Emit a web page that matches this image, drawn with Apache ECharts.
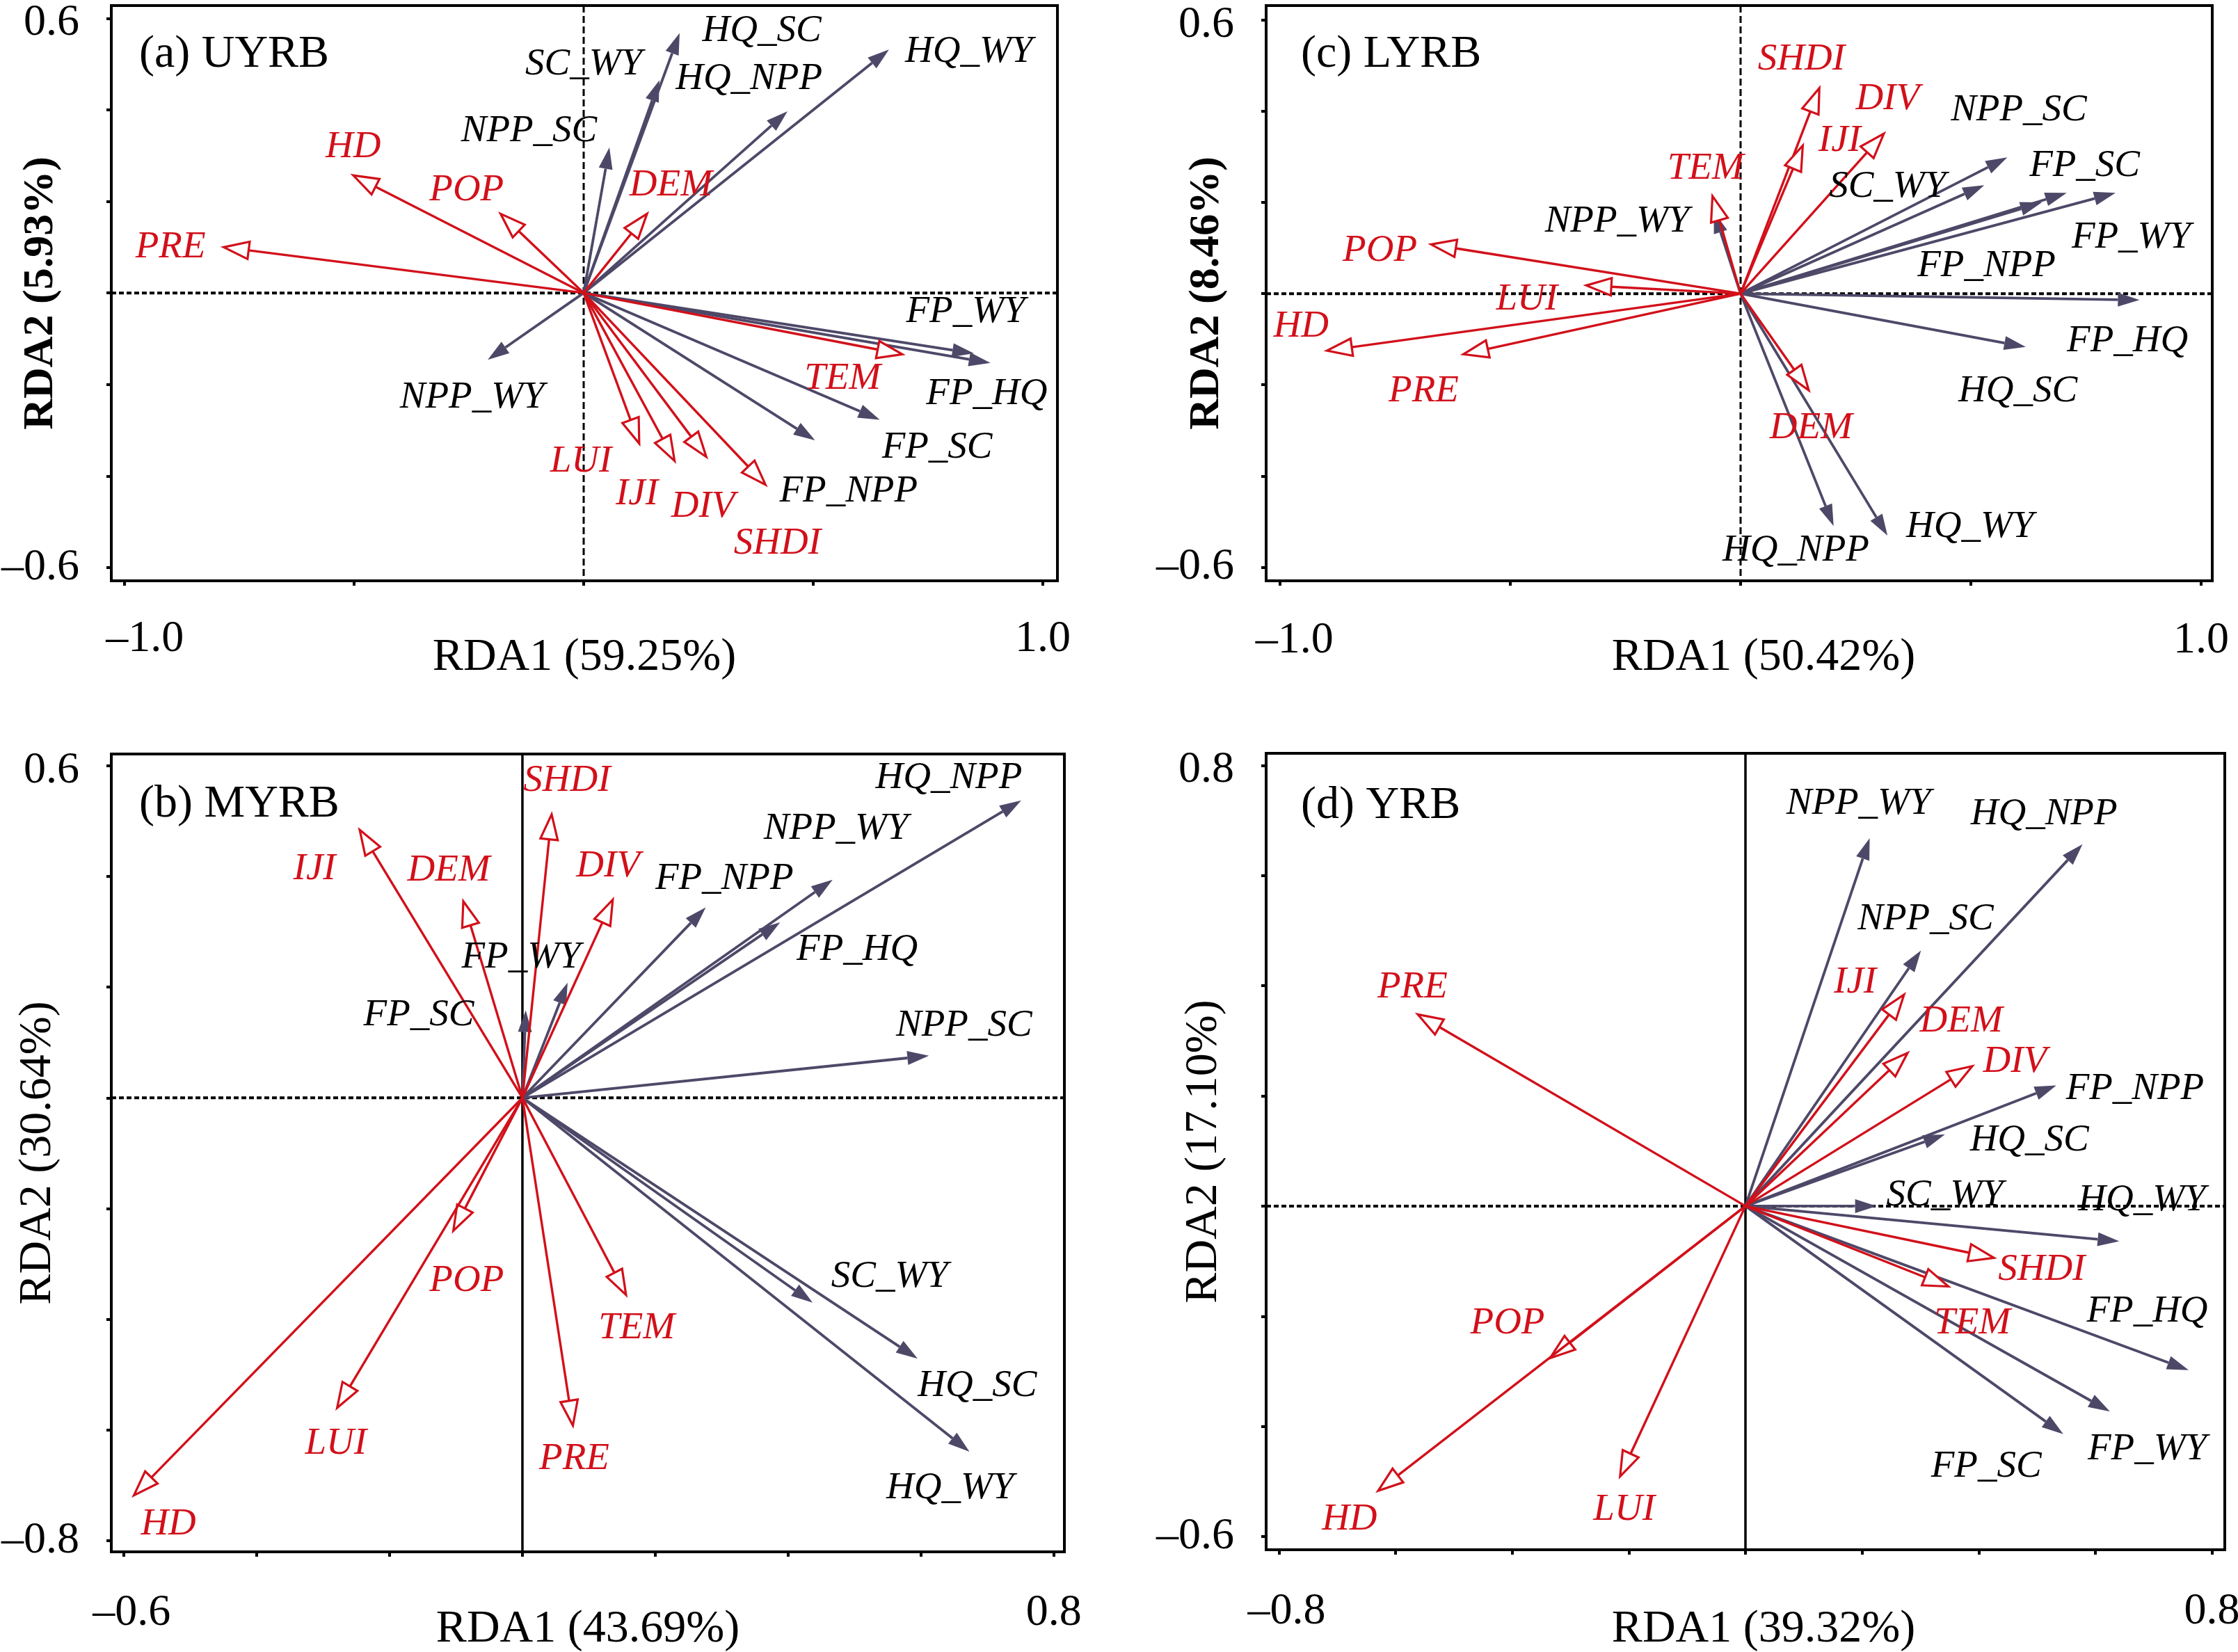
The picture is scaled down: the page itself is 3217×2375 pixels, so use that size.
<!DOCTYPE html>
<html>
<head>
<meta charset="utf-8">
<script src="https://cdn.jsdelivr.net/npm/echarts@6/dist/echarts.min.js"></script>
<style>
html,body{margin:0;padding:0;background:#fff;}
#chart{width:3217px;height:2375px;}
</style>
</head>
<body>
<div id="chart"></div>
<script>
// ---------------- DATA ----------------
const drivers = ['HD','POP','PRE','DEM','TEM','LUI','IJI','DIV','SHDI'];

// (a) UYRB
const namesA = ['HQ_SC','SC_WY','HQ_NPP','HQ_WY','NPP_SC','NPP_WY','FP_WY','FP_HQ','FP_SC','FP_NPP','HD','POP','PRE','DEM','TEM','LUI','IJI','DIV','SHDI'];
const rda1A = [0.209,0.165,0.444,0.665,0.056,-0.209,0.850,0.886,0.645,0.504,-0.502,-0.181,-0.784,0.138,0.694,0.121,0.198,0.267,0.396];
const rda2A = [0.568,0.465,0.397,0.532,0.318,-0.146,-0.132,-0.153,-0.277,-0.322,0.257,0.173,0.100,0.173,-0.134,-0.329,-0.367,-0.358,-0.419];
// (b) MYRB
const namesB = ['HQ_NPP','NPP_WY','FP_HQ','FP_NPP','FP_WY','FP_SC','NPP_SC','SC_WY','HQ_SC','HQ_WY','IJI','DEM','SHDI','DIV','POP','TEM','LUI','PRE','HD'];
const rda1B = [0.751,0.467,0.388,0.276,0.068,0.005,0.612,0.437,0.595,0.673,-0.245,-0.089,0.044,0.136,-0.104,0.156,-0.279,0.076,-0.585];
const rda2B = [0.537,0.394,0.317,0.344,0.208,0.158,0.076,-0.370,-0.471,-0.639,0.484,0.355,0.512,0.358,-0.240,-0.356,-0.560,-0.592,-0.718];
// (c) LYRB
const namesC = ['NPP_SC','SC_WY','FP_SC','FP_WY','FP_NPP','FP_HQ','HQ_SC','NPP_WY','HQ_NPP','HQ_WY','SHDI','IJI','DIV','TEM','POP','LUI','HD','PRE','DEM'];
const rda1C = [0.579,0.529,0.708,0.814,0.654,0.866,0.619,-0.058,0.202,0.319,0.171,0.135,0.311,-0.061,-0.672,-0.335,-0.898,-0.602,0.148];
const rda2C = [0.299,0.238,0.221,0.221,0.200,-0.014,-0.117,0.180,-0.510,-0.531,0.451,0.325,0.351,0.214,0.108,0.018,-0.125,-0.133,-0.212];
// (d) YRB
const namesD = ['NPP_WY','HQ_NPP','NPP_SC','FP_NPP','HQ_SC','SC_WY','HQ_WY','FP_HQ','FP_WY','FP_SC','PRE','IJI','DEM','DIV','SHDI','TEM','POP','HD','LUI'];
const rda1D = [0.213,0.578,0.301,0.533,0.342,0.225,0.641,0.760,0.625,0.545,-0.562,0.272,0.278,0.389,0.426,0.348,-0.335,-0.630,-0.215];
const rda2D = [0.668,0.657,0.464,0.219,0.130,0.000,-0.064,-0.298,-0.373,-0.414,0.348,0.384,0.278,0.254,-0.094,-0.146,-0.276,-0.517,-0.491];

// axis texts
const panelTitles = ['(a) UYRB','(b) MYRB','(c) LYRB','(d) YRB'];
const xNames = ['RDA1 (59.25%)','RDA1 (43.69%)','RDA1 (50.42%)','RDA1 (39.32%)'];
const yNames = ['RDA2 (5.93%)','RDA2 (30.64%)','RDA2 (8.46%)','RDA2 (17.10%)'];
const xTickLabels = [[-1.0,1.0],[-0.6,0.8],[-1.0,1.0],[-0.8,0.8]];
const yTickLabels = [[-0.6,0.6],[-0.8,0.6],[-0.6,0.6],[-0.6,0.8]];
const xTicks = [[-1,-0.5,0,0.5,1],[-0.6,-0.4,-0.2,0,0.2,0.4,0.6,0.8],[-1,-0.5,0,0.5,1],[-0.8,-0.6,-0.4,-0.2,0,0.2,0.4,0.6,0.8]];
const yTicks = [[-0.6,-0.4,-0.2,0,0.2,0.4,0.6],[-0.8,-0.6,-0.4,-0.2,0,0.2,0.4,0.6],[-0.6,-0.4,-0.2,0,0.2,0.4,0.6],[-0.6,-0.4,-0.2,0,0.2,0.4,0.6,0.8]];

// ---------------- LAYOUT (label anchors in data units, grid boxes in px) ----------------
const labXA = [0.388,0.0,0.360,0.839,-0.119,-0.243,0.832,0.878,0.770,0.577,-0.502,-0.255,-0.900,0.190,0.564,-0.006,0.116,0.260,0.422];
const labYA = [0.573,0.500,0.467,0.527,0.353,-0.228,-0.042,-0.221,-0.338,-0.433,0.319,0.224,0.100,0.235,-0.187,-0.369,-0.440,-0.467,-0.548];
const labXB = [0.642,0.472,0.504,0.304,-0.002,-0.156,0.665,0.553,0.685,0.644,-0.313,-0.111,0.067,0.129,-0.084,0.172,-0.281,0.078,-0.533];
const labYB = [0.578,0.486,0.267,0.396,0.254,0.149,0.130,-0.323,-0.520,-0.705,0.413,0.410,0.572,0.418,-0.331,-0.416,-0.625,-0.652,-0.771];
const labXC = [0.604,0.319,0.747,0.848,0.534,0.840,0.602,-0.268,0.120,0.498,0.132,0.215,0.319,-0.076,-0.783,-0.464,-0.954,-0.688,0.153];
const labYC = [0.403,0.234,0.280,0.123,0.060,-0.104,-0.215,0.158,-0.563,-0.512,0.514,0.335,0.427,0.274,0.094,-0.013,-0.073,-0.215,-0.295];
const labXD = [0.194,0.512,0.309,0.668,0.487,0.342,0.680,0.689,0.689,0.413,-0.571,0.188,0.370,0.462,0.508,0.389,-0.408,-0.679,-0.208];
const labYD = [0.731,0.712,0.521,0.212,0.119,0.020,0.011,-0.191,-0.442,-0.473,0.397,0.406,0.335,0.262,-0.116,-0.213,-0.213,-0.569,-0.552];

const grids = [
  {left:160, top:8, width:1360, height:827},
  {left:160, top:1084, width:1370, height:1147},
  {left:1820, top:8, width:1360, height:827},
  {left:1820, top:1083, width:1378, height:1145}
];
const xRanges = [[-1.029,1.032],[-0.619,0.816],[-1.030,1.024],[-0.822,0.822]];
const yRanges = [[-0.629,0.628],[-0.820,0.621],[-0.630,0.632],[-0.624,0.822]];
const xNameGap = [78,79,78,82];
const xNameShift = [0,0,70,52];
const yNameGap = [70,72,54,56];
const yNameBold = [true,false,true,false];
const xLabelMargin = [52,56,54,57];
const negLabelShift = [58,22,42,22];
const vSolid = [false,true,false,true];
const titlePos = [[200,79],[200,1157],[1870,79],[1870,1159]];

const FONT = '"Liberation Serif","Times New Roman",serif';
const RED = '#d2101a';
const GREY = '#4e4868';

const panels = [
  {names:namesA, x:rda1A, y:rda2A, lx:labXA, ly:labYA},
  {names:namesB, x:rda1B, y:rda2B, lx:labXB, ly:labYB},
  {names:namesC, x:rda1C, y:rda2C, lx:labXC, ly:labYC},
  {names:namesD, x:rda1D, y:rda2D, lx:labXD, ly:labYD}
];

function fmt(v){ const s = Math.abs(v).toFixed(1); return v < 0 ? '\u2013' + s : s; }
function fmtX(v){ return v < 0 ? '{n|' + fmt(v) + '}' : '{p|' + fmt(v) + '}'; }
function fmtY(v){ return v > 0 ? '{t|' + fmt(v) + '}' : '{b|' + fmt(v) + '}'; }

const option = {
  animation:false,
  backgroundColor:'#fff',
  grid:[], xAxis:[], yAxis:[], series:[], graphic:[]
};

panels.forEach((p, k) => {
  option.grid.push(Object.assign({show:true, borderColor:'#000', borderWidth:4, containLabel:false, outerBoundsMode:'none'}, grids[k]));
  option.xAxis.push({
    gridIndex:k, type:'value', min:xRanges[k][0], max:xRanges[k][1],
    axisLine:{show:true, onZero:false, lineStyle:{color:'#000', width:4}},
    axisTick:{show:true, inside:false, length:7, customValues:xTicks[k], lineStyle:{color:'#000', width:4}},
    axisLabel:{show:true, customValues:xTickLabels[k], formatter:fmtX, margin:xLabelMargin[k], color:'#000', fontSize:64, fontFamily:FONT,
      rich:{
        n:{fontSize:64, fontFamily:FONT, color:'#000', padding:[0,0,0,negLabelShift[k]]},
        p:{fontSize:64, fontFamily:FONT, color:'#000'}
      }},
    splitLine:{show:false},
    name:xNames[k], nameLocation:'middle', nameGap:xNameGap[k], nameMoveOverlap:false,
    nameTextStyle:{color:'#000', fontSize:66, fontFamily:FONT, padding:[0,0,0,xNameShift[k]]}
  });
  option.yAxis.push({
    gridIndex:k, type:'value', min:yRanges[k][0], max:yRanges[k][1],
    axisLine:{show:true, onZero:false, lineStyle:{color:'#000', width:4}},
    axisTick:{show:true, inside:false, length:7, customValues:yTicks[k], lineStyle:{color:'#000', width:4}},
    axisLabel:{show:true, customValues:yTickLabels[k], formatter:fmtY, margin:46, color:'#000', fontSize:64, fontFamily:FONT,
      rich:{
        t:{fontSize:64, fontFamily:FONT, color:'#000', padding:[14,0,0,0]},
        b:{fontSize:64, fontFamily:FONT, color:'#000'}
      }},
    splitLine:{show:false},
    name:yNames[k], nameLocation:'middle', nameGap:yNameGap[k], nameMoveOverlap:false,
    nameTextStyle:{color:'#000', fontSize:yNameBold[k]?62:66, fontWeight:yNameBold[k]?'bold':'normal', fontFamily:FONT}
  });
  // zero lines
  option.series.push({
    type:'custom', xAxisIndex:k, yAxisIndex:k, silent:true, z:1,
    data:[[0,0]],
    renderItem:(params, api) => {
      const c = api.coord([0,0]);
      const cs = params.coordSys;
      return {type:'group', children:[
        {type:'line', shape:{x1:cs.x, y1:c[1], x2:cs.x+cs.width, y2:c[1]}, style:{stroke:'#000', lineWidth:4, lineDash:[7,4]}},
        {type:'line', shape:{x1:c[0], y1:cs.y, x2:c[0], y2:cs.y+cs.height}, style: vSolid[k] ? {stroke:'#000', lineWidth:3.5} : {stroke:'#000', lineWidth:3, lineDash:[10,5]}}
      ]};
    }
  });
  // arrows
  option.series.push({
    type:'custom', xAxisIndex:k, yAxisIndex:k, silent:true, z:2,
    data:p.names.map((n,i) => [p.x[i], p.y[i], drivers.includes(n) ? 1 : 0]),
    renderItem:(params, api) => {
      const o = api.coord([0,0]);
      const t = api.coord([api.value(0), api.value(1)]);
      const drv = api.value(2) === 1;
      const dx = t[0]-o[0], dy = t[1]-o[1];
      const len = Math.hypot(dx, dy);
      const ux = dx/len, uy = dy/len;
      const L = drv ? 36 : 31, W = drv ? 12.5 : 10;
      const bx = t[0]-ux*L, by = t[1]-uy*L;
      const px = -uy, py = ux;
      const col = drv ? RED : GREY;
      return {type:'group', children:[
        {type:'line', shape:{x1:o[0], y1:o[1], x2:bx, y2:by}, style:{stroke:col, lineWidth: drv ? 3.4 : 3.8}},
        {type:'polygon', shape:{points:[[t[0],t[1]],[bx+px*W, by+py*W],[bx-px*W, by-py*W]]},
          style: drv ? {fill:'#fff', stroke:RED, lineWidth:3.2, lineJoin:'miter'} : {fill:GREY}}
      ]};
    }
  });
  // labels
  option.series.push({
    type:'custom', xAxisIndex:k, yAxisIndex:k, silent:true, z:3,
    data:p.names.map((n,i) => [p.lx[i], p.ly[i]]),
    renderItem:(params, api) => {
      const c = api.coord([api.value(0), api.value(1)]);
      const n = p.names[params.dataIndex];
      return {type:'text', x:c[0], y:c[1], style:{text:n, fill: drivers.includes(n) ? RED : '#000',
        font:'italic 55px ' + FONT, align:'center', verticalAlign:'middle'}};
    }
  });
  option.graphic.push({type:'text', x:titlePos[k][0], y:titlePos[k][1], z:10,
    style:{text:panelTitles[k], fill:'#000', font:'66px ' + FONT, verticalAlign:'middle', align:'left'}});
});

const chart = echarts.init(document.getElementById('chart'), null, {renderer:'canvas'});
chart.setOption(option);
</script>
</body>
</html>
